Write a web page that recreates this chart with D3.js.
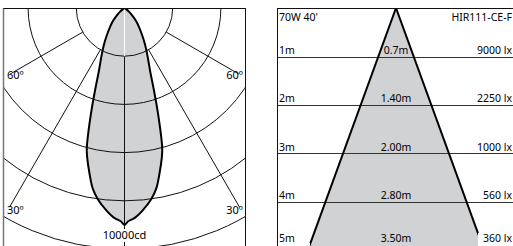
<!DOCTYPE html>
<html>
<head>
<meta charset="utf-8">
<script src="https://cdn.jsdelivr.net/npm/d3@7"></script>
<style>
  body { margin: 0; background: #fff; }
  svg { display: block; font-family: "Noto Sans", sans-serif; }
</style>
</head>
<body>
<svg id="chart" width="513" height="246"></svg>
<script>
// polar curve (degrees from nadir, candela)
const angles  = [0, 1, 2, 3, 5, 8, 10, 12, 14, 15, 16, 18, 20, 22, 25, 28, 31, 34, 38, 42, 46, 50, 55, 60];
const candela = [9000, 8850, 8780, 8700, 8450, 8000, 7600, 7000, 6400, 6050, 5500, 4400, 3500, 2850, 2300, 1900, 1550, 1250, 950, 700, 450, 250, 80, 0];
const rings = [2000, 4000, 6000, 8000, 10000];
const spokes = [30, 60];

// cone diagram
const distances = [1, 2, 3, 4, 5];
const diameters = ["0.7m", "1.40m", "2.00m", "2.80m", "3.50m"];
const luxValues = [9000, 2250, 1000, 560, 360];
const beamAngle = 40;

const svg = d3.select("#chart");
const fill = "#d1d2d4";

// ---------- left: polar diagram ----------
const cx = 124.5, cy = 8;
const r = d3.scaleLinear().domain([0, 10000]).range([0, 241]);

svg.append("clipPath").attr("id", "clipL")
  .append("rect").attr("x", 3.5).attr("y", 8).attr("width", 241.5).attr("height", 240);

const left = svg.append("g").attr("clip-path", "url(#clipL)");
const pg = left.append("g").attr("transform", `translate(${cx},${cy})`);

const pt = (deg, rad) => [Math.sin(deg * Math.PI / 180) * rad, Math.cos(deg * Math.PI / 180) * rad];

// full curve mirrored
const curve = angles.slice().reverse().map((a, i) => [-a, candela[angles.length - 1 - i]])
  .concat(angles.slice(1).map((a, i) => [a, candela[i + 1]]));

const lineR = d3.lineRadial()
  .angle(d => Math.PI - d[0] * Math.PI / 180)
  .radius(d => r(d[1]))
  .curve(d3.curveCatmullRomClosed);

pg.append("path")
  .attr("d", lineR(curve))
  .attr("fill", fill)
  .attr("stroke", "none");

pg.selectAll(".ring")
  .data(rings)
  .join("circle")
  .attr("r", d => r(d))
  .attr("fill", "none")
  .attr("stroke", "#111")
  .attr("stroke-width", 1);

spokes.forEach(a => {
  [-a, a].forEach(s => {
    const end = a === 60 ? 132 : 230;
    const p0 = pt(s, r(rings[0])), p1 = pt(s, end);
    pg.append("line")
      .attr("x1", p0[0]).attr("y1", p0[1])
      .attr("x2", p1[0]).attr("y2", p1[1])
      .attr("stroke", "#111");
  });
});

pg.append("line")
  .attr("x1", 0).attr("y1", r(rings[0]))
  .attr("x2", 0).attr("y2", 250)
  .attr("stroke", "#111");
pg.append("line")
  .attr("x1", 0).attr("y1", 0)
  .attr("x2", 0).attr("y2", r(rings[0]))
  .attr("stroke", "#fff");

pg.append("path")
  .attr("d", lineR(curve))
  .attr("fill", "none")
  .attr("stroke", "#000")
  .attr("stroke-width", 2);

// frame
svg.append("line").attr("x1", 3.5).attr("y1", 8).attr("x2", 3.5).attr("y2", 246).attr("stroke", "#777").attr("stroke-width", 1.5);
svg.append("line").attr("x1", 3.5).attr("y1", 8.5).attr("x2", 245.5).attr("y2", 8.5).attr("stroke", "#111");
svg.append("line").attr("x1", 245.5).attr("y1", 8).attr("x2", 245.5).attr("y2", 246).attr("stroke", "#111");

const angFont = "11px";
svg.append("text").attr("x", 7).attr("y", 79).style("font-size", angFont).text("60º");
svg.append("text").attr("x", 243).attr("y", 79).attr("text-anchor", "end").style("font-size", angFont).text("60º");
svg.append("text").attr("x", 7).attr("y", 214).style("font-size", angFont).text("30º");
svg.append("text").attr("x", 243).attr("y", 214).attr("text-anchor", "end").style("font-size", angFont).text("30º");

svg.append("rect").attr("x", 100).attr("y", 229).attr("width", 50).attr("height", 13).attr("fill", "#fff");
svg.append("text").attr("x", cx).attr("y", 239).attr("text-anchor", "middle").style("font-size", "11px").text("10000cd");

// ---------- right: cone diagram ----------
const ax = 396;
const y = d3.scaleLinear().domain([0, 5]).range([8, 250.5]);
const pxPerM = y(1) - y(0);
const half = Math.tan(beamAngle / 2 * Math.PI / 180);

svg.append("clipPath").attr("id", "clipR")
  .append("rect").attr("x", 277).attr("y", 8).attr("width", 240).attr("height", 240);
const right = svg.append("g").attr("clip-path", "url(#clipR)");

const dMax = 5.3;
right.append("path")
  .attr("d", d3.line()([[ax, y(0)], [ax - dMax * half * pxPerM, y(dMax)], [ax + dMax * half * pxPerM, y(dMax)]]) + "Z")
  .attr("fill", fill);

right.selectAll(".row")
  .data(distances)
  .join("line")
  .attr("x1", 277).attr("x2", 513)
  .attr("y1", d => Math.round(y(d)) + 0.5).attr("y2", d => Math.round(y(d)) + 0.5)
  .attr("stroke", "#333");

[-1, 1].forEach(s => {
  right.append("line")
    .attr("x1", ax).attr("y1", y(0))
    .attr("x2", ax + s * dMax * half * pxPerM).attr("y2", y(dMax))
    .attr("stroke", "#000").attr("stroke-width", 2);
});

// label backgrounds on the last row
right.append("rect").attr("x", 478).attr("y", 233).attr("width", 40).attr("height", 20).attr("fill", "#fff");
right.append("rect").attr("x", 277).attr("y", 243).attr("width", 33).attr("height", 10).attr("fill", "#fff");

svg.append("line").attr("x1", 277.5).attr("y1", 8).attr("x2", 277.5).attr("y2", 246).attr("stroke", "#111");
svg.append("line").attr("x1", 277).attr("y1", 8.5).attr("x2", 513).attr("y2", 8.5).attr("stroke", "#111");

const lf = "10.5px";
svg.append("text").attr("x", 279).attr("y", 21).style("font-size", lf).text("70W 40'");
svg.append("text").attr("x", 512).attr("y", 21).attr("text-anchor", "end").style("font-size", lf).text("HIR111-CE-F");

const labels = svg.append("g").style("font-size", lf);
distances.forEach((d, i) => {
  const by = Math.min(y(d) - 3, 242);
  labels.append("text").attr("x", 279).attr("y", by).text(d + "m");
  labels.append("text").attr("x", ax).attr("y", by).attr("text-anchor", "middle").text(diameters[i]);
  labels.append("text").attr("x", 512).attr("y", by).attr("text-anchor", "end").text(luxValues[i] + " lx");
});
</script>
</body>
</html>
